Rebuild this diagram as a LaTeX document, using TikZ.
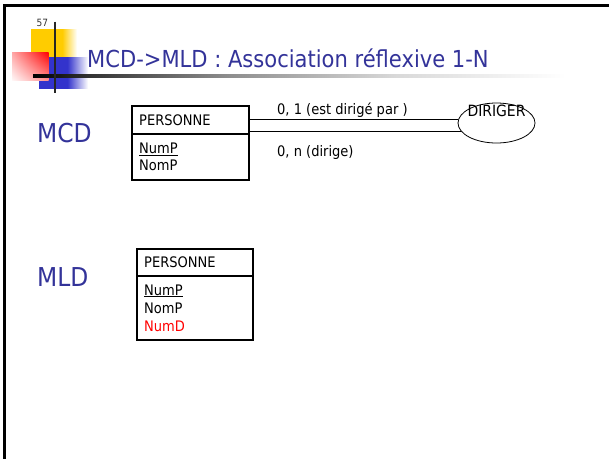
\documentclass[tikz,border=0pt]{standalone}
\usepackage{fontspec}
\setmainfont{DejaVu Sans Condensed}
\usetikzlibrary{shapes.geometric,shadings}
\definecolor{titleblue}{RGB}{51,51,153}
\definecolor{logoyellow}{RGB}{255,204,0}
\definecolor{logoblue}{RGB}{51,51,204}
\definecolor{logored}{RGB}{255,0,0}
\pgfdeclarehorizontalshading{yfade}{100bp}{color(0bp)=(logoyellow); color(25bp)=(logoyellow); color(59bp)=(logoyellow); color(75bp)=(white); color(100bp)=(white)}
\pgfdeclarehorizontalshading{bfade}{100bp}{color(0bp)=(logoblue); color(25bp)=(logoblue); color(54bp)=(logoblue); color(75bp)=(white); color(100bp)=(white)}
\pgfdeclarehorizontalshading{lfade}{100bp}{color(0bp)=(black); color(25bp)=(black); color(30bp)=(black!80); color(42bp)=(black!45); color(57bp)=(black!15); color(72bp)=(white); color(100bp)=(white)}
\tikzset{
  titletxt/.style={font=\fontsize{23.4}{28}\selectfont, text=titleblue, inner sep=0pt},
  bigtxt/.style={font=\fontsize{26}{30}\selectfont, text=titleblue, inner sep=0pt},
  smalltxt/.style={font=\fontsize{14.5}{17}\selectfont, inner sep=0pt},
  boxpart/.style={draw=black, line width=2pt, rectangle, inner sep=0pt, anchor=north west},
  relline/.style={draw=black, line width=0.8pt},
  assoc/.style={ellipse, draw=black, line width=0.8pt, minimum width=77pt, minimum height=40pt, inner sep=0pt}
}
\begin{document}
\begin{tikzpicture}[x=1pt,y=-1pt]
\useasboundingbox (0,0) rectangle (609,459);
% frame
\draw[line width=3pt, black] (4,5.5) -- (609,5.5);
\draw[line width=3pt, black] (4.5,4) -- (4.5,459);
% logo
\shade[shading=yfade] (31,29) rectangle (77,57);
\shade[shading=bfade] (39,57) rectangle (88,88.5);
\shade[upper right=logored, upper left=logored!35, lower left=logored!3, lower right=logored!45] (12,52) rectangle (48.5,80);
\shade[shading=lfade] (33,74.5) rectangle (600,77);
\draw[line width=2.2pt, black!85] (55,21.5) -- (55,92.5);
\node[font=\fontsize{10}{12}\selectfont, text=black!80, inner sep=0pt, anchor=base west] (pg) at (36.5,26) {57};
% title
\node[titletxt, anchor=base west] (title) at (87,67) {MCD->MLD : Association réflexive 1-N};
% MCD
\node[bigtxt, anchor=base west] (mcd) at (37,142) {MCD};
\node[boxpart, minimum width=117pt, minimum height=28pt] (h1) at (131,105) {};
\node[boxpart, minimum width=117pt, minimum height=46pt] (a1) at (131,133) {};
\node[smalltxt, anchor=base west] (h1t) at (139,125) {PERSONNE};
\node[smalltxt, anchor=base west] (a1p) at (139,153.3) {\underline{NumP}};
\node[smalltxt, anchor=base west] (a1n) at (139,170) {NomP};
\node[assoc] (dir) at (496.5,123) {};
\node[smalltxt, font=\fontsize{15.5}{17}\selectfont, anchor=base] (dirt) at (496.5,116.7) {DIRIGER};
\draw[relline] (dir.174) -- (dir.174 -| h1.east);
\draw[relline] (dir.193) -- (dir.193 -| h1.east);
\node[smalltxt, anchor=base west] (c1) at (277,114) {0, 1 (est dirigé par~)};
\node[smalltxt, anchor=base west] (c2) at (277,156.5) {0, n (dirige)};
% MLD
\node[bigtxt, anchor=base west] (mld) at (37,286) {MLD};
\node[boxpart, minimum width=116pt, minimum height=27pt] (h2) at (136,248) {};
\node[boxpart, minimum width=116pt, minimum height=64pt] (a2) at (136,275) {};
\node[smalltxt, anchor=base west] (h2t) at (144,267) {PERSONNE};
\node[smalltxt, anchor=base west] (a2p) at (144,295) {\underline{NumP}};
\node[smalltxt, anchor=base west] (a2n) at (144,313) {NomP};
\node[smalltxt, anchor=base west, text=logored] (a2d) at (144,331.5) {NumD};
\end{tikzpicture}
\end{document}
